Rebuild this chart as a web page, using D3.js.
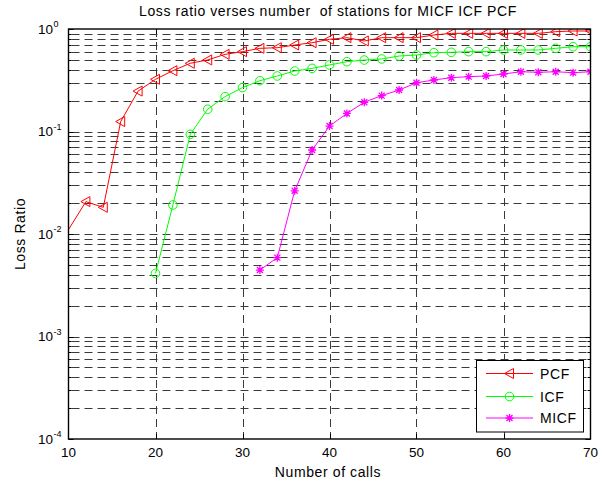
<!DOCTYPE html>
<html>
<head>
<meta charset="utf-8">
<script src="https://cdn.jsdelivr.net/npm/d3@7"></script>
<style>
  body { margin: 0; background: #fff; }
  svg text { font-family: Arial, "Liberation Sans", Helvetica, sans-serif; fill: #000; }
</style>
</head>
<body>
<div id="chart"></div>
<script>
// values
const pcfCalls = [8, 12, 14, 16, 18, 20, 22, 24, 26, 28, 30, 32, 34, 36, 38, 40, 42, 44, 46, 48, 50, 52, 54, 56, 58, 60, 62, 64, 66, 68, 70];
const pcf = [0.0059, 0.0207, 0.0182, 0.125, 0.248, 0.323, 0.392, 0.463, 0.499, 0.566, 0.601, 0.648, 0.657, 0.698, 0.735, 0.793, 0.823, 0.764, 0.823, 0.823, 0.823, 0.874, 0.907, 0.907, 0.907, 0.907, 0.907, 0.907, 0.942, 0.956, 0.956];

const icfCalls = [20, 22, 24, 26, 28, 30, 32, 34, 36, 38, 40, 42, 44, 46, 48, 50, 52, 54, 56, 58, 60, 62, 64, 66, 68, 70];
const icf = [0.00413, 0.0192, 0.0938, 0.165, 0.219, 0.268, 0.313, 0.348, 0.389, 0.413, 0.446, 0.480, 0.498, 0.510, 0.545, 0.558, 0.587, 0.592, 0.601, 0.601, 0.624, 0.624, 0.624, 0.648, 0.672, 0.672];

const micfCalls = [32, 34, 36, 38, 40, 42, 44, 46, 48, 50, 52, 54, 56, 58, 60, 62, 64, 66, 68, 70];
const micf = [0.00445, 0.00588, 0.0264, 0.066, 0.113, 0.150, 0.193, 0.224, 0.254, 0.299, 0.318, 0.335, 0.343, 0.348, 0.364, 0.383, 0.378, 0.383, 0.375, 0.383];

const xTicks = [10, 20, 30, 40, 50, 60, 70];
const yDecades = [-4, -3, -2, -1, 0];
const seriesNames = ["PCF", "ICF", "MICF"];

const width = 603, height = 484;
const pLeft = 68.5, pRight = 590.5, pTop = 29, pBottom = 439;

const svg = d3.select("#chart").append("svg")
  .attr("width", width).attr("height", height);

const x = d3.scaleLinear().domain([10, 70]).range([pLeft, pRight]);
const y = d3.scaleLog().domain([1e-4, 1]).range([pBottom, pTop]);

svg.append("defs").append("clipPath").attr("id", "clip")
  .append("rect").attr("x", pLeft).attr("y", pTop)
  .attr("width", pRight - pLeft).attr("height", pBottom - pTop);

const grid = svg.append("g").attr("stroke", "#3a3a3a").attr("stroke-width", 1)
  .attr("stroke-dasharray", "8,5").attr("fill", "none");

// vertical grid
grid.selectAll("line.vg").data(xTicks.slice(1, -1)).join("line")
  .attr("class", "vg")
  .attr("x1", d => Math.round(x(d)) + 0.5).attr("x2", d => Math.round(x(d)) + 0.5)
  .attr("y1", pTop).attr("y2", pBottom);

// horizontal grid, decades and minors
const yGridVals = [];
yDecades.slice(0, -1).forEach(e => {
  for (let k = 1; k <= 9; k++) yGridVals.push(k * Math.pow(10, e));
});
const hGrid = yGridVals.filter(v => v > 1e-4 * 1.01);
grid.selectAll("line.hg").data(hGrid).join("line")
  .attr("class", "hg")
  .attr("x1", pLeft + 3).attr("x2", pRight)
  .attr("y1", d => Math.round(y(d)) + 0.5).attr("y2", d => Math.round(y(d)) + 0.5);

// ticks
const ticks = svg.append("g").attr("stroke", "#000").attr("stroke-width", 1);
xTicks.slice(1, -1).forEach(v => {
  const px = Math.round(x(v)) + 0.5;
  ticks.append("line").attr("x1", px).attr("x2", px).attr("y1", pBottom).attr("y2", pBottom - 5);
  ticks.append("line").attr("x1", px).attr("x2", px).attr("y1", pTop).attr("y2", pTop + 5);
});
yGridVals.concat([1]).forEach(v => {
  const py = Math.round(y(v)) + 0.5;
  const major = Math.abs(Math.log10(v) - Math.round(Math.log10(v))) < 1e-9;
  const len = major ? 5 : 3;
  ticks.append("line").attr("x1", pLeft).attr("x2", pLeft + len).attr("y1", py).attr("y2", py);
  ticks.append("line").attr("x1", pRight).attr("x2", pRight - len).attr("y1", py).attr("y2", py);
});

// series
const series = [
  { name: "PCF", xs: pcfCalls, ys: pcf, color: "#ff0000", marker: "tri" },
  { name: "ICF", xs: icfCalls, ys: icf, color: "#00ff00", marker: "circle" },
  { name: "MICF", xs: micfCalls, ys: micf, color: "#ff00ff", marker: "star" }
];

function markerPath(type) {
  if (type === "tri") return "M-5,0L4,-5L4,5Z";
  if (type === "star") return "M-4,0H4M0,-4V4M-3,-3L3,3M-3,3L3,-3";
  return null;
}

function drawMarker(g, type, color) {
  if (type === "circle") {
    g.append("circle").attr("r", 4.3).attr("fill", "none").attr("stroke", color).attr("stroke-width", 1);
  } else {
    g.append("path").attr("d", markerPath(type)).attr("fill", "none").attr("stroke", color)
      .attr("stroke-width", type === "star" ? 1.3 : 1);
  }
}

const line = d3.line().x(d => x(d[0])).y(d => y(d[1]));
const plot = svg.append("g").attr("clip-path", "url(#clip)");

series.forEach(s => {
  const pts = s.xs.map((v, i) => [v, s.ys[i]]);
  plot.append("path").datum(pts).attr("d", line)
    .attr("fill", "none").attr("stroke", s.color).attr("stroke-width", 1);
  plot.selectAll(null).data(pts.filter(p => p[0] >= 10)).join("g")
    .attr("transform", d => `translate(${x(d[0])},${y(d[1])})`)
    .each(function() { drawMarker(d3.select(this), s.marker, s.color); });
});

// axes box
svg.append("rect").attr("x", pLeft).attr("y", pTop)
  .attr("width", pRight - pLeft).attr("height", pBottom - pTop)
  .attr("fill", "none").attr("stroke", "#000").attr("stroke-width", 1.4);

// tick labels
svg.append("g").selectAll("text").data(xTicks).join("text")
  .attr("x", d => x(d)).attr("y", 457)
  .attr("text-anchor", "middle").attr("font-size", 13.5).text(d => d);

const yl = svg.append("g");
yDecades.forEach(e => {
  const py = y(Math.pow(10, e));
  yl.append("text").attr("x", 53).attr("y", py + 4.5)
    .attr("text-anchor", "end").attr("font-size", 13.5).text("10");
  yl.append("text").attr("x", 53.5).attr("y", py - 2)
    .attr("text-anchor", "start").attr("font-size", 9).text(String(e));
});

// labels
const labelFont = { size: 14, spacing: 0.6 };
svg.append("text").attr("x", 328).attr("y", 16).attr("text-anchor", "middle")
  .attr("font-size", labelFont.size).attr("letter-spacing", labelFont.spacing)
  .attr("xml:space", "preserve")
  .text("Loss ratio verses number  of stations for MICF ICF PCF");
svg.append("text").attr("x", 328).attr("y", 477).attr("text-anchor", "middle")
  .attr("font-size", labelFont.size).attr("letter-spacing", labelFont.spacing)
  .text("Number of calls");
svg.append("text").attr("transform", "translate(25,234) rotate(-90)")
  .attr("text-anchor", "middle").attr("font-size", labelFont.size)
  .attr("letter-spacing", labelFont.spacing).text("Loss Ratio");

// legend
const lg = svg.append("g");
lg.append("rect").attr("x", 476.5).attr("y", 360.5).attr("width", 107).attr("height", 71.5)
  .attr("fill", "#fff").attr("stroke", "#000").attr("stroke-width", 1);
const legendY = [373.5, 396.5, 418];
series.forEach((s, i) => {
  lg.append("line").attr("x1", 486).attr("x2", 533).attr("y1", legendY[i]).attr("y2", legendY[i])
    .attr("stroke", s.color).attr("stroke-width", 1);
  drawMarker(lg.append("g").attr("transform", `translate(509.5,${legendY[i]})`), s.marker, s.color);
  lg.append("text").attr("x", 540).attr("y", legendY[i] + 5)
    .attr("font-size", labelFont.size).attr("letter-spacing", labelFont.spacing).text(seriesNames[i]);
});
</script>
</body>
</html>
